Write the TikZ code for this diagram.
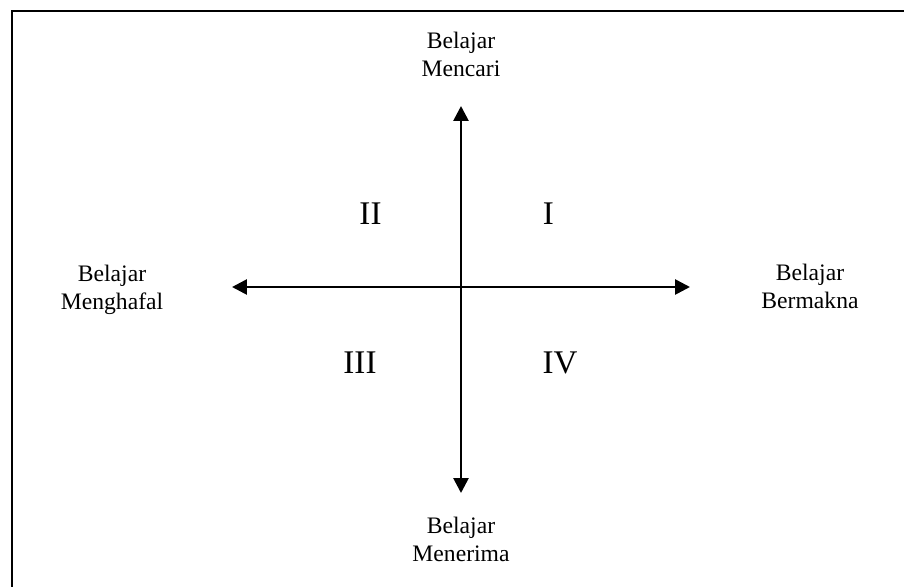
\documentclass[tikz,border=0pt]{standalone}
\usepackage{fontspec}
\setmainfont{Liberation Serif}
\usetikzlibrary{arrows.meta}
\begin{document}
\begin{tikzpicture}[x=0.025cm, y=-0.025cm,
    teks/.style={font=\fontsize{16.8}{20}\selectfont, align=center, inner sep=0pt},
    kuadran/.style={font=\fontsize{23.5}{28}\selectfont, inner sep=0pt},
    sumbu/.style={line width=1.9pt, {Triangle[length=10.5pt, width=10.5pt]}-{Triangle[length=10.5pt, width=10.5pt]}}]
  \useasboundingbox (0,0) rectangle (904,587);
  % bingkai: hanya sisi kiri dan atas
  \draw[line width=1.5pt] (12,587) -- (12,11) -- (904,11);

  % ujung-ujung sumbu
  \coordinate (atas) at (461,106);
  \coordinate (bawah) at (461,493);
  \coordinate (kiri) at (232,287);
  \coordinate (kanan) at (690,287);
  \draw[sumbu] (atas) -- (bawah);
  \draw[sumbu] (kiri) -- (kanan);

  % keterangan sumbu
  \node[teks] (mencari) at (461,54.5) {Belajar\\Mencari};
  \node[teks] (menerima) at (461,539) {Belajar\\Menerima};
  \node[teks] (menghafal) at (112,290) {Belajar\\Menghafal};
  \node[teks] (bermakna) at (810,286) {Belajar\\Bermakna};

  % nomor kuadran
  \node[kuadran] (k1) at (548.5,214) {I};
  \node[kuadran] (k2) at (370.5,214) {II};
  \node[kuadran] (k3) at (360,363) {III};
  \node[kuadran] (k4) at (560,363) {IV};
\end{tikzpicture}
\end{document}
